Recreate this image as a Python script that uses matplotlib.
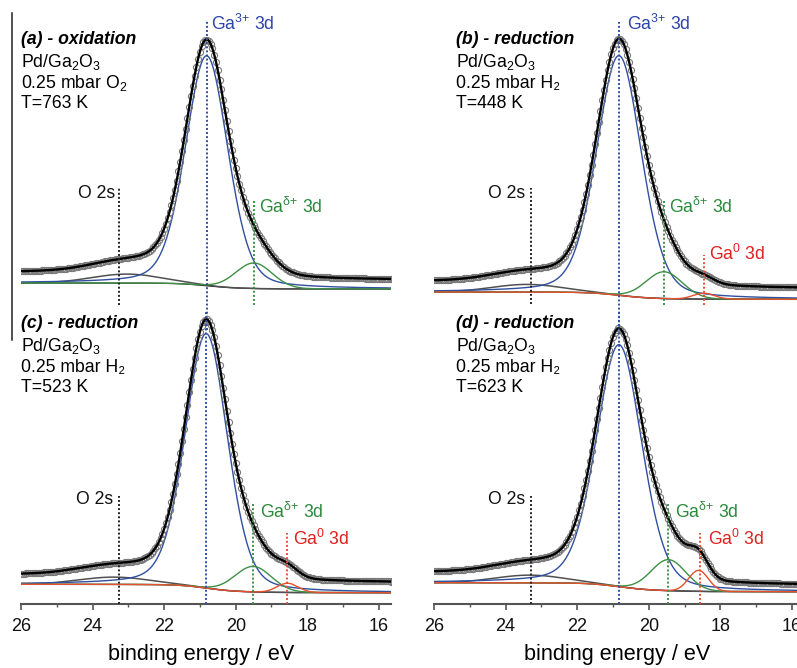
import numpy as np
import matplotlib
matplotlib.use('Agg')
import matplotlib.pyplot as plt
from matplotlib.lines import Line2D

plt.rcParams['font.family'] = ['Liberation Sans', 'DejaVu Sans']
plt.rcParams['mathtext.fontset'] = 'custom'
plt.rcParams['mathtext.rm'] = 'Liberation Sans'
plt.rcParams['mathtext.it'] = 'Liberation Sans:italic'
plt.rcParams['mathtext.bf'] = 'Liberation Sans:bold'

# ---------------- data ----------------
panel_titles = ['(a) - oxidation', '(b) - reduction', '(c) - reduction', '(d) - reduction']
panel_sample = ['Pd/Ga$_2$O$_3$'] * 4
panel_gas = ['0.25 mbar O$_2$', '0.25 mbar H\u2082', '0.25 mbar H\u2082', '0.25 mbar H\u2082']
panel_temp = ['T=763 K', 'T=448 K', 'T=523 K', 'T=623 K']

# fitted components: centre (eV), height (arb. u.), FWHM (eV)
ga3_center = [20.81, 20.83, 20.82, 20.83]
ga3_height = [230.0, 239.7, 254.5, 242.0]
ga3_fwhm = [1.40, 1.48, 1.40, 1.51]
gad_center = [19.49, 19.57, 19.51, 19.45]
gad_height = [25.5, 26.8, 25.5, 31.0]
gad_fwhm = [1.20, 1.20, 1.20, 1.15]
ga0_center = [18.50, 18.46, 18.55, 18.61]
ga0_height = [0.0, 5.9, 9.2, 21.0]
ga0_fwhm = [0.70, 0.70, 0.70, 0.65]
o2s_center = [23.04, 23.40, 23.40, 23.32]
o2s_height = [9.0, 7.7, 7.3, 7.7]
o2s_fwhm = [2.3, 2.3, 2.3, 2.3]
# Shirley background (high / low binding energy side)
bg_high = [22.0, 13.0, 19.7, 21.3]
bg_low = [16.0, 5.7, 11.3, 12.3]
# measured spectrum vs. fit components
env_off_high = [10.7, 10.3, 9.3, 10.0]
env_off_low = [9.0, 10.6, 10.0, 6.4]
env_scale = [1.02, 1.02, 1.013, 1.028]

# marker lines (eV)
ga3_line = [20.81, 20.83, 20.82, 20.83]
gad_line = [19.49, 19.57, 19.51, 19.45]
ga0_line = [None, 18.46, 18.58, 18.58]
o2s_line = [23.26, 23.30, 23.26, 23.30]

x_ticks = [26, 24, 22, 20, 18, 16]
x_minor = [25, 23, 21, 19, 17]

# ---------------- layout ----------------
W, H = 797, 668
fig = plt.figure(figsize=(W / 100, H / 100), dpi=100)

def fx(px):
    return px / W

def fy(py):
    return 1 - py / H

# axes pixel boxes: left, right, top, bottom, xmax
boxes = [
    (21, 391, 15, 305, 15.66),
    (434, 797, 15, 305, 15.86),
    (21, 391, 314, 604, 15.66),
    (434, 797, 314, 604, 15.86),
]
# vertical extent of marker lines (top px, bottom px)
ga3_span = [(20, 330), (22, 330), (310, 604), (310, 604)]
gad_span = [(200, 305), (200, 305), (503, 604), (502, 604)]
ga0_span = [None, (255, 305), (533, 604), (533, 604)]
o2s_span = [(187, 305), (188, 304), (496, 604), (496, 604)]
# text positions (px)
title_x = [21, 456, 21, 456]
title_y = [44.5, 44.5, 328.5, 328.5]
ga3_lab = [(211, 30.5), (627, 30.5), None, None]
gad_lab = [(259, 213), (669, 213), (260, 518.3), (675, 518.5)]
ga0_lab = [None, (709, 260), (293, 545), (708, 545)]
o2s_lab = [(115, 198.5), (525, 198.5), (113, 503.5), (525, 503.5)]

c_blue = '#2f4f9f'
c_green = '#3d8f45'
c_red = '#e5502e'
c_gray = '#505050'
t_blue = '#2b45a8'
t_green = '#2a8a3a'
t_red = '#e0201e'

FS = 12.7

def pv(E, c, h, w, eta=0.0):
    x2 = ((E - c) / w) ** 2
    g = np.exp(-4 * np.log(2) * x2)
    l = 1.0 / (1 + 4 * x2)
    return h * ((1 - eta) * g + eta * l)

E = np.linspace(15.5, 26.0, 1051)
Ed = np.arange(15.5, 26.001, 0.05)

for i, (L, R, T, B, xmax) in enumerate(boxes):
    ax = fig.add_axes([fx(L), fy(B), fx(R - L), (B - T) / H])
    ax.patch.set_alpha(0)
    for s in ['top', 'left', 'right']:
        ax.spines[s].set_visible(False)
    ax.set_yticks([])

    def comps(EE):
        blue = pv(EE, ga3_center[i], ga3_height[i], ga3_fwhm[i], 0.25)
        green = pv(EE, gad_center[i], gad_height[i], gad_fwhm[i], 0.05)
        red = pv(EE, ga0_center[i], ga0_height[i], ga0_fwhm[i], 0.0)
        gray = pv(EE, o2s_center[i], o2s_height[i], o2s_fwhm[i], 0.0)
        return blue, green, red, gray

    blue, green, red, gray = comps(E)
    cum = np.cumsum(blue + green + red)
    F = cum / cum[-1]
    bg = bg_low[i] + (bg_high[i] - bg_low[i]) * F
    off = env_off_low[i] + (env_off_high[i] - env_off_low[i]) * F
    env = bg + off + env_scale[i] * (blue + green + red + gray)

    bd, gd, rd, grd = comps(Ed)
    Fd = np.interp(Ed, E, F)
    bgd = bg_low[i] + (bg_high[i] - bg_low[i]) * Fd
    offd = env_off_low[i] + (env_off_high[i] - env_off_low[i]) * Fd
    data = bgd + offd + env_scale[i] * (bd + gd + rd + grd)

    ax.plot(E, bg, color='#1a1a1a', lw=0.9, zorder=2)
    ax.plot(E, bg + gray, color=c_gray, lw=1.1, zorder=2)
    ax.plot(E, bg + blue, color=c_blue, lw=1.0, zorder=3)
    ax.plot(E, bg + green, color=c_green, lw=1.0, zorder=3)
    if ga0_height[i] > 0:
        ax.plot(E, bg + red, color=c_red, lw=1.0, zorder=3)
    ax.plot(Ed, data, ls='none', marker='o', ms=4.4, mfc='none',
            mec='#7a7a7a', mew=0.8, zorder=4)
    ax.plot(E, env, color='black', lw=1.7, zorder=5)

    # dotted marker lines
    def vline(Ev, span, col):
        t, b = span
        ax.add_line(Line2D([Ev, Ev], [B - b, B - t], color=col, lw=1.4,
                           ls=(0, (1, 1.1)), clip_on=False, zorder=6))
    vline(ga3_line[i], ga3_span[i], c_blue)
    vline(gad_line[i], gad_span[i], c_green)
    if ga0_line[i] is not None:
        vline(ga0_line[i], ga0_span[i], c_red)
    vline(o2s_line[i], o2s_span[i], '#222222')

    # texts
    tx, ty = title_x[i], title_y[i]
    fig.text(fx(tx), fy(ty), panel_titles[i], fontsize=FS, fontweight='bold',
             fontstyle='italic', va='baseline', ha='left')
    fig.text(fx(tx), fy(ty + 22.5), panel_sample[i], fontsize=FS, va='baseline', ha='left')
    fig.text(fx(tx), fy(ty + 43.5), panel_gas[i], fontsize=FS, va='baseline', ha='left')
    fig.text(fx(tx), fy(ty + 63.5), panel_temp[i], fontsize=FS, va='baseline', ha='left')
    if ga3_lab[i] is not None:
        fig.text(fx(ga3_lab[i][0]), fy(ga3_lab[i][1]), 'Ga$^{3{+}}$ 3d', color=t_blue,
                 fontsize=FS, va='baseline', ha='left')
    fig.text(fx(gad_lab[i][0]), fy(gad_lab[i][1]), 'Ga$^{\\mathrm{\u03b4}{+}}$ 3d', color=t_green,
             fontsize=FS, va='baseline', ha='left')
    if ga0_lab[i] is not None:
        fig.text(fx(ga0_lab[i][0]), fy(ga0_lab[i][1]), 'Ga$^{0}$ 3d', color=t_red,
                 fontsize=FS, va='baseline', ha='left')
    fig.text(fx(o2s_lab[i][0]), fy(o2s_lab[i][1]), 'O 2s', color='#111111',
             fontsize=FS, va='baseline', ha='right')

    if i >= 2:
        ax.spines['bottom'].set_color('#555555')
        ax.spines['bottom'].set_linewidth(1.5)
        ax.set_xticks(x_ticks)
        ax.set_xticklabels([str(t) for t in x_ticks])
        ax.set_xticks(x_minor, minor=True)
        ax.tick_params(axis='x', which='major', direction='out', length=4,
                       width=1.2, color='#555555', labelsize=13, pad=6,
                       labelcolor='#111111')
        ax.tick_params(axis='x', which='minor', direction='out', length=2.5,
                       width=1.0, color='#555555')
    else:
        ax.spines['bottom'].set_visible(False)
        ax.set_xticks([])
    ax.set_xlim(26, xmax)
    ax.set_ylim(0, B - T)

# x labels
fig.text(fx(201.5), fy(660), 'binding energy / eV', fontsize=15.6, ha='center', va='baseline')
fig.text(fx(616.7), fy(660), 'binding energy / eV', fontsize=15.6, ha='center', va='baseline')

# thin vertical line at the left edge
fig.add_artist(Line2D([fx(12), fx(12)], [fy(13), fy(340)], color='#222222', lw=1.1))

fig.savefig('out.png', dpi=100)
